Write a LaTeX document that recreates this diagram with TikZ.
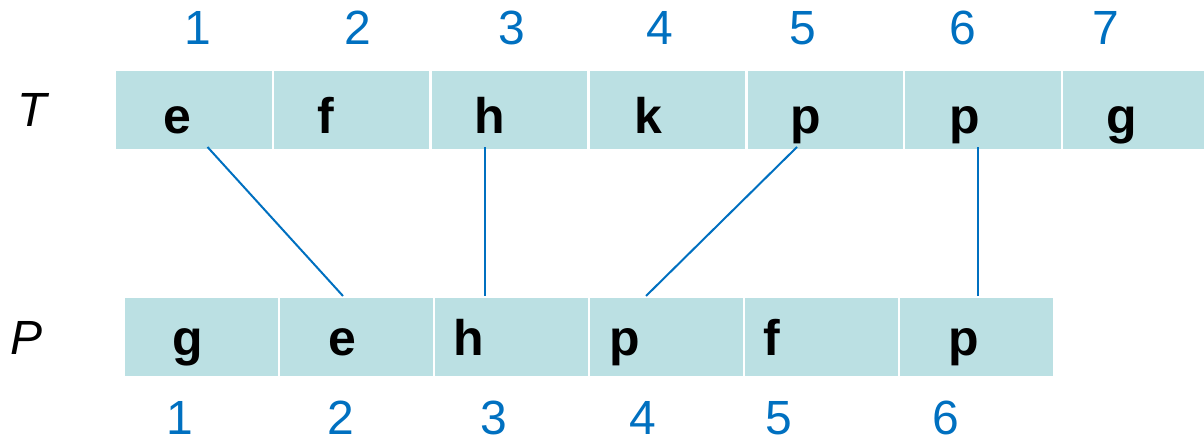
\documentclass[tikz,border=0pt]{standalone}
\usepackage{fontspec}
\setmainfont{Liberation Sans}
\definecolor{cellfill}{RGB}{187,224,227}
\definecolor{numblue}{RGB}{0,112,192}
\begin{document}
\begin{tikzpicture}[x=1pt,y=-1pt,
  cellT/.style={rectangle,fill=cellfill,inner sep=0pt,minimum width=155.3pt,minimum height=78pt,anchor=north west},
  cellP/.style={rectangle,fill=cellfill,inner sep=0pt,minimum width=152.5pt,minimum height=78pt,anchor=north west},
  letter/.style={anchor=base,inner sep=0pt,font=\fontsize{50}{60}\selectfont\bfseries},
  num/.style={anchor=base,inner sep=0pt,text=numblue,font=\fontsize{48}{58}\selectfont},
  lbl/.style={anchor=base,inner sep=0pt,font=\fontsize{48}{58}\selectfont\itshape},
  link/.style={draw=numblue,line width=2pt}]
\useasboundingbox (0,0) rectangle (1204,441);
\clip (0,0) rectangle (1204,441);
% top row cells
\foreach \i in {1,...,7} {
  \node[cellT] (t\i) at ({116+(\i-1)*157.83},71) {};
}
% bottom row cells
\foreach \i in {1,...,6} {
  \node[cellP] (p\i) at ({125+(\i-1)*155},298) {};
}
% row labels
\node[lbl] (labT) at (32,127) {T};
\node[lbl] (labP) at (27,354) {P};
% top letters
\node[letter] (lt1) at (177,133) {e};
\node[letter] (lt2) at (326,133) {f};
\node[letter] (lt3) at (490,133) {h};
\node[letter] (lt4) at (648,133) {k};
\node[letter] (lt5) at (806,133) {p};
\node[letter] (lt6) at (965,133) {p};
\node[letter] (lt7) at (1122,133) {g};
% bottom letters
\node[letter] (lp1) at (188,355) {g};
\node[letter] (lp2) at (342,355) {e};
\node[letter] (lp3) at (469,355) {h};
\node[letter] (lp4) at (625,355) {p};
\node[letter] (lp5) at (772,355) {f};
\node[letter] (lp6) at (964,355) {p};
% top numbers
\node[num] (nt1) at (198,45) {1};
\node[num] (nt2) at (358,45) {2};
\node[num] (nt3) at (512,45) {3};
\node[num] (nt4) at (660,45) {4};
\node[num] (nt5) at (803,45) {5};
\node[num] (nt6) at (963,45) {6};
\node[num] (nt7) at (1106,45) {7};
% bottom numbers
\node[num] (np1) at (180,434) {1};
\node[num] (np2) at (341,434) {2};
\node[num] (np3) at (494,434) {3};
\node[num] (np4) at (643,434) {4};
\node[num] (np5) at (779,434) {5};
\node[num] (np6) at (946,434) {6};
% connector end points
\coordinate (a1) at (207.5,147);
\coordinate (b1) at (343,296);
\coordinate (a2) at (485,147);
\coordinate (b2) at (485,296);
\coordinate (a3) at (797,147);
\coordinate (b3) at (646,296);
\coordinate (a4) at (978,147);
\coordinate (b4) at (978,296);
\draw[link] (a1) -- (b1);
\draw[link] (a2) -- (b2);
\draw[link] (a3) -- (b3);
\draw[link] (a4) -- (b4);
\end{tikzpicture}
\end{document}
